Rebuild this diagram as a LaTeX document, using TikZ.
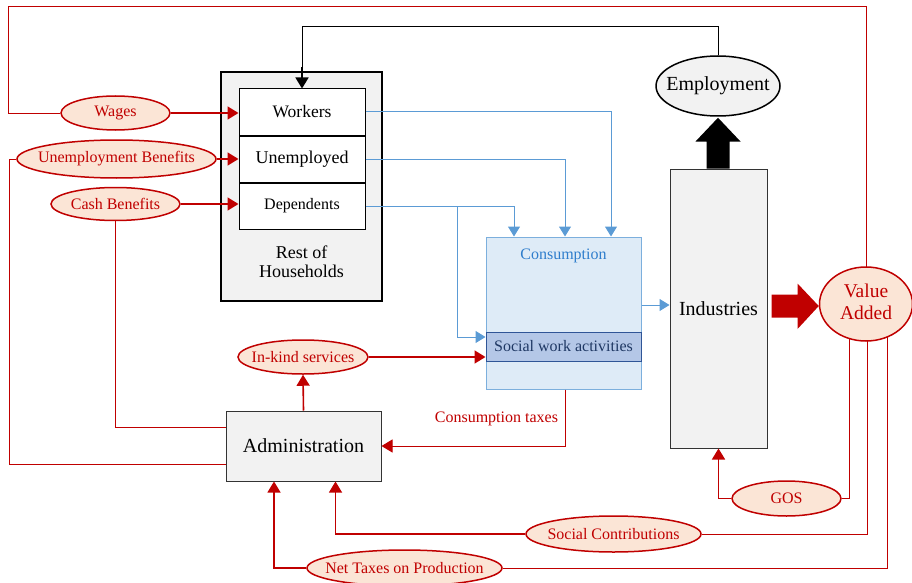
\documentclass[tikz,border=0pt]{standalone}
\usepackage{fontspec}
\setmainfont{Liberation Serif}
\usepackage{tikz}
\usetikzlibrary{positioning}
\usetikzlibrary{arrows.meta}
\usetikzlibrary{shapes}
\usetikzlibrary{backgrounds}
\usetikzlibrary{calc}

\definecolor{darkred}{HTML}{C00000}
\definecolor{palered}{HTML}{FBE5D6}
\definecolor{boxgray}{HTML}{F2F2F2}
\definecolor{lineblue}{HTML}{5B9BD5}
\definecolor{textblue}{HTML}{2E7DCC}
\definecolor{consfill}{HTML}{DEEBF7}
\definecolor{socfill}{HTML}{B4C7E7}
\definecolor{socdraw}{HTML}{2F5597}
\definecolor{soctext}{HTML}{1F3864}

\begin{document}
\begin{tikzpicture}[x=1pt,y=-1pt]
\tikzstyle{flow}=[ellipse, draw=darkred, line width=1.5pt, fill=palered, text=darkred, inner sep=0pt, font=\fontsize{16}{18}\selectfont]
\tikzstyle{hbox}=[rectangle, draw=black, fill=white, line width=1pt, minimum width=126pt, minimum height=46pt, inner sep=0pt]
\tikzstyle{gbox}=[rectangle, draw=black!80, fill=boxgray, line width=1pt, inner sep=0pt, font=\fontsize{20}{22}\selectfont]
\tikzstyle{redline}=[draw=darkred, line width=0.9pt]
\tikzstyle{redarrow}=[draw=darkred, line width=1.6pt, -{Triangle[length=11pt,width=13pt]}]
\tikzstyle{bluearrow}=[draw=lineblue, line width=1pt, -{Triangle[length=10pt,width=12pt]}]
\useasboundingbox (0,0) rectangle (912,583);

% households
\node[rectangle, draw=black, fill=boxgray, line width=2pt, minimum width=161pt, minimum height=229pt] (hh) at (301.5,186.5) {};
\node[hbox, font=\fontsize{17.5}{20}\selectfont] (workers) at (302,112) {Workers};
\node[hbox, below=0pt of workers, font=\fontsize{18}{20}\selectfont] (unemp) {Unemployed};
\node[hbox, below=0pt of unemp, font=\fontsize{16}{18}\selectfont] (dep) {Dependents};
\node[align=center, font=\fontsize{18}{19}\selectfont] (rest) at (301.5,262) {Rest of\\Households};

% flows into households
\node[flow, minimum width=109pt, minimum height=34pt] (wages) at (115.5,113) {\makebox[0pt]{Wages}};
\node[flow, minimum width=199pt, minimum height=38pt] (ubens) at (116.5,159) {\makebox[0pt]{Unemployment Benefits}};
\node[flow, minimum width=129pt, minimum height=33pt] (cash) at (115.5,204) {\makebox[0pt]{Cash Benefits}};

% production side
\node[ellipse, draw=black, fill=boxgray, line width=1.5pt, minimum width=124pt, minimum height=60pt, inner sep=0pt, font=\fontsize{20}{22}\selectfont] (emp) at (718,86) {\makebox[0pt]{Employment}};
\node[gbox, minimum width=97pt, minimum height=279pt] (ind) at (718.5,308.5) {Industries};
\node[flow, minimum width=93pt, minimum height=74pt, font=\fontsize{19.5}{22}\selectfont] (va) at (866,304) {\makebox[0pt]{\raisebox{-3pt}{\begin{tabular}{@{}c@{}}Value\\Added\end{tabular}}}};

% consumption
\node[rectangle, draw=lineblue!80, fill=consfill, line width=1pt, minimum width=155pt, minimum height=152pt] (cons) at (563.5,313) {};
\node[text=textblue, font=\fontsize{16}{18}\selectfont] (conslbl) at (563.5,256) {Consumption};
\node[rectangle, draw=socdraw, fill=socfill, line width=1pt, minimum width=155pt, minimum height=29pt, inner sep=0pt, text=soctext, font=\fontsize{16}{18}\selectfont] (social) at (563.5,346.5) {Social work activities};

% government
\node[gbox, minimum width=155pt, minimum height=70pt] (admin) at (303.5,446) {Administration};
\node[flow, minimum width=130pt, minimum height=34pt] (inkind) at (303,357) {\makebox[0pt]{In-kind services}};
\node[text=darkred, anchor=east, font=\fontsize{16}{18}\selectfont] (taxlbl) at ($(cons.south)+(-2,29)$) {Consumption taxes};
\node[flow, minimum width=109pt, minimum height=35pt] (gos) at (786.5,498.5) {\makebox[0pt]{GOS}};
\node[flow, minimum width=175pt, minimum height=36pt] (sc) at (613.5,534) {\makebox[0pt]{Social Contributions}};
\node[flow, minimum width=195pt, minimum height=36pt] (nt) at (404.5,568) {\makebox[0pt]{Net Taxes on Production}};

\coordinate (topleft) at (8,6);

% lines leaving value added
\begin{scope}[on background layer]
\draw[redline] (va.center) |- (topleft) |- (wages.west);
\draw[redline] ($(va.center)+(-17,0)$) |- (gos.east);
\draw[redline] ($(va.center)+(1,0)$) |- (sc.east);
\draw[redline] ($(va.center)+(21,0)$) |- (nt.east);
\end{scope}

% red flows
\draw[redarrow] (wages.east) -- (wages.east -| workers.west);
\draw[redarrow] (ubens.east) -- (ubens.east -| unemp.west);
\draw[redarrow] (cash.east) -- (cash.east -| dep.west);
\draw[redline] ($(admin.west)+(0,18)$) -| ($(ubens.west)+(-7,0)$) -- (ubens.west);
\draw[redline] (cash.south) |- ($(admin.west)+(0,-19)$);
\draw[redarrow] (admin.north) -- (inkind.south);
\draw[redarrow] (inkind.east) -- ($(social.west)+(0,10.5)$);
\draw[redarrow, line width=1pt] ($(cons.south)+(1.5,0)$) |- (admin.east);
\draw[redarrow] (gos.west) -| (ind.south);
\draw[redarrow, line width=1.2pt] (sc.west) -| ($(admin.south)+(32,0)$);
\draw[redarrow, line width=1.2pt] (nt.west) -| ($(admin.south)+(-29.5,0)$);

% employment loop
\draw[line width=1pt] (emp.north) -- ++(0,-29) -| ($(workers.north)+(0,-20)$);
\draw[line width=1.6pt, -{Triangle[length=11pt,width=13pt]}] ($(workers.north)+(0,-21)$) -- (workers.north);

% blue flows
\draw[bluearrow] (workers.east) -| ($(cons.north)+(47.5,0)$);
\draw[bluearrow] (unemp.east) -| ($(cons.north)+(1.5,0)$);
\draw[bluearrow] (dep.east) -| ($(cons.north)+(-49.5,0)$);
\draw[bluearrow] ($(dep.east)+(92,0)$) |- ($(social.west)+(0,-9.5)$);
\draw[bluearrow] ($(cons.east)+(0,-8)$) -- ($(ind.west)+(0,-3.5)$);

% block arrows
\fill[black] ($(ind.north)+(-12,0)$) -- ++(0,-27) -- ++(-11,0) -- ($(emp.south)+(0,1)$)
  -- ($(ind.north)+(22,-27)$) -- ++(-11,0) -- ($(ind.north)+(11,0)$) -- cycle;
\fill[darkred] ($(ind.east)+(4,-14)$) -- ++(26,0) -- ++(0,-11) -- ($(va.west)+(0,2)$)
  -- ($(ind.east)+(30,20.5)$) -- ++(0,-11.5) -- ($(ind.east)+(4,9)$) -- cycle;
\end{tikzpicture}
\end{document}
